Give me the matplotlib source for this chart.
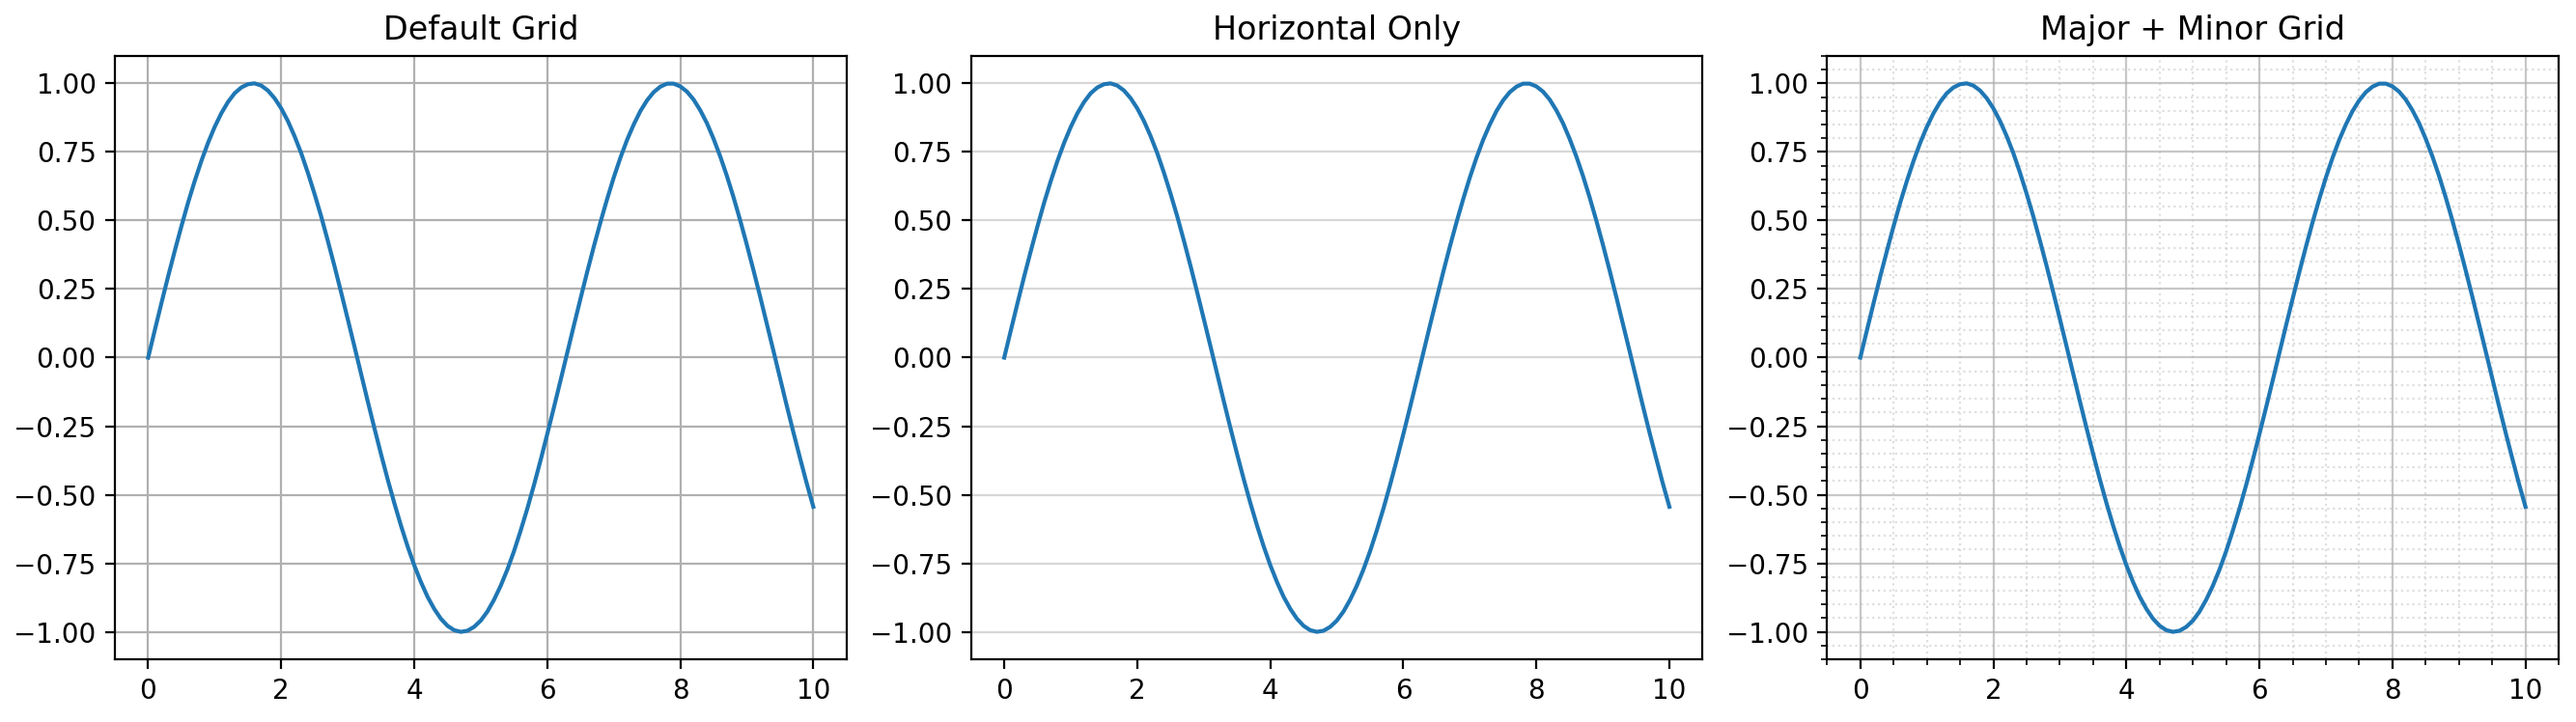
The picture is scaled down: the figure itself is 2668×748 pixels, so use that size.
import matplotlib
matplotlib.use("Agg")
import matplotlib.pyplot as plt

x_vals = [0.0, 0.1, 0.2, 0.3, 0.4, 0.5, 0.6, 0.7, 0.8, 0.9,
          1.0, 1.1, 1.2, 1.3, 1.4, 1.5, 1.6, 1.7, 1.8, 1.9,
          2.0, 2.1, 2.2, 2.3, 2.4, 2.5, 2.6, 2.7, 2.8, 2.9,
          3.0, 3.1, 3.2, 3.3, 3.4, 3.5, 3.6, 3.7, 3.8, 3.9,
          4.0, 4.1, 4.2, 4.3, 4.4, 4.5, 4.6, 4.7, 4.8, 4.9,
          5.0, 5.1, 5.2, 5.3, 5.4, 5.5, 5.6, 5.7, 5.8, 5.9,
          6.0, 6.1, 6.2, 6.3, 6.4, 6.5, 6.6, 6.7, 6.8, 6.9,
          7.0, 7.1, 7.2, 7.3, 7.4, 7.5, 7.6, 7.7, 7.8, 7.9,
          8.0, 8.1, 8.2, 8.3, 8.4, 8.5, 8.6, 8.7, 8.8, 8.9,
          9.0, 9.1, 9.2, 9.3, 9.4, 9.5, 9.6, 9.7, 9.8, 9.9, 10.0]
y_vals = [0.000, 0.100, 0.199, 0.296, 0.389, 0.479, 0.565, 0.644, 0.717, 0.783,
          0.841, 0.891, 0.932, 0.964, 0.985, 0.997, 1.000, 0.992, 0.974, 0.946,
          0.909, 0.863, 0.808, 0.746, 0.675, 0.598, 0.516, 0.427, 0.335, 0.239,
          0.141, 0.042, -0.058, -0.158, -0.256, -0.351, -0.443, -0.530, -0.612, -0.688,
          -0.757, -0.818, -0.872, -0.916, -0.952, -0.978, -0.994, -1.000, -0.996, -0.982,
          -0.959, -0.926, -0.883, -0.832, -0.773, -0.706, -0.631, -0.551, -0.465, -0.374,
          -0.279, -0.182, -0.083, 0.017, 0.117, 0.215, 0.312, 0.405, 0.494, 0.578,
          0.657, 0.729, 0.794, 0.850, 0.899, 0.938, 0.968, 0.988, 0.999, 0.999,
          0.989, 0.970, 0.941, 0.902, 0.855, 0.798, 0.734, 0.663, 0.585, 0.501,
          0.412, 0.319, 0.223, 0.124, 0.025, -0.075, -0.175, -0.272, -0.366, -0.458, -0.544]
titles = ["Default Grid", "Horizontal Only", "Major + Minor Grid"]

fig, axes = plt.subplots(1, 3, figsize=(13.34, 3.74), dpi=200)
fig.subplots_adjust(left=0.0446, right=0.9933, bottom=0.0869, top=0.9225,
                    wspace=0.170)
for ax, t in zip(axes, titles):
    ax.plot(x_vals, y_vals, color="#1f77b4")
    ax.set_title(t)

axes[0].grid(True)
axes[1].grid(True, axis="y", alpha=0.5)
axes[2].minorticks_on()
axes[2].grid(True, which="major", alpha=0.7)
axes[2].grid(True, which="minor", linestyle=":", alpha=0.4)

fig.savefig("out.png", dpi=200)
